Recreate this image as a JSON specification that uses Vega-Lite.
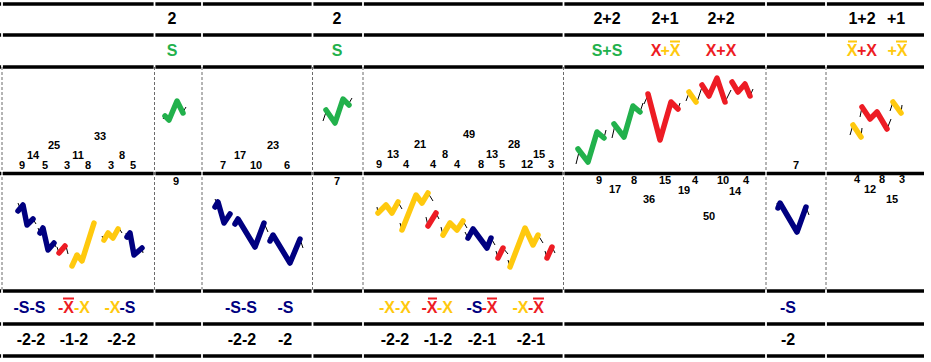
{
  "$schema": "https://vega.github.io/schema/vega-lite/v6.json",
  "width": 931,
  "height": 362,
  "padding": 0,
  "autosize": {"type": "none"},
  "background": "white",
  "config": {"view": {"stroke": null}},
  "datasets": {
    "hl": [{"y": 4}, {"y": 35}, {"y": 67}, {"y": 173.5}, {"y": 291}, {"y": 324}, {"y": 356}],
    "vb": [{"x": 2}, {"x": 154.5}, {"x": 202}, {"x": 312.5}, {"x": 363}, {"x": 563.5}, {"x": 766}, {"x": 826}],
    "zig": [
      {"g":1,"c":"g","o":0,"x":165,"y":116},{"g":1,"c":"g","o":1,"x":169,"y":120},{"g":1,"c":"g","o":2,"x":177,"y":101},{"g":1,"c":"g","o":3,"x":183,"y":113},
      {"g":2,"c":"g","o":0,"x":326,"y":110},{"g":2,"c":"g","o":1,"x":335,"y":123},{"g":2,"c":"g","o":2,"x":343,"y":99},{"g":2,"c":"g","o":3,"x":349,"y":105},
      {"g":3,"c":"g","o":0,"x":578,"y":149},{"g":3,"c":"g","o":1,"x":588,"y":162},{"g":3,"c":"g","o":2,"x":597,"y":132},{"g":3,"c":"g","o":3,"x":604,"y":138},
      {"g":4,"c":"g","o":0,"x":614,"y":124},{"g":4,"c":"g","o":1,"x":624,"y":137},{"g":4,"c":"g","o":2,"x":633,"y":106},{"g":4,"c":"g","o":3,"x":640,"y":112},
      {"g":5,"c":"r","o":0,"x":648,"y":94},{"g":5,"c":"r","o":1,"x":660,"y":140},{"g":5,"c":"r","o":2,"x":671,"y":102},{"g":5,"c":"r","o":3,"x":678,"y":109},
      {"g":6,"c":"y","o":0,"x":689,"y":92},{"g":6,"c":"y","o":1,"x":696,"y":102},
      {"g":7,"c":"r","o":0,"x":702,"y":85},{"g":7,"c":"r","o":1,"x":709,"y":96},{"g":7,"c":"r","o":2,"x":717,"y":78},{"g":7,"c":"r","o":3,"x":725,"y":102},
      {"g":8,"c":"r","o":0,"x":732,"y":82},{"g":8,"c":"r","o":1,"x":738,"y":92},{"g":8,"c":"r","o":2,"x":745,"y":84},{"g":8,"c":"r","o":3,"x":750,"y":96},
      {"g":9,"c":"y","o":0,"x":853,"y":125},{"g":9,"c":"y","o":1,"x":861,"y":137},
      {"g":10,"c":"r","o":0,"x":862,"y":107},{"g":10,"c":"r","o":1,"x":870,"y":119},{"g":10,"c":"r","o":2,"x":877,"y":112},{"g":10,"c":"r","o":3,"x":887,"y":129},
      {"g":11,"c":"y","o":0,"x":893,"y":102},{"g":11,"c":"y","o":1,"x":901,"y":113},
      {"g":12,"c":"n","o":0,"x":18,"y":211},{"g":12,"c":"n","o":1,"x":23,"y":205},{"g":12,"c":"n","o":2,"x":27,"y":225},{"g":12,"c":"n","o":3,"x":33,"y":219},
      {"g":13,"c":"n","o":0,"x":40,"y":233},{"g":13,"c":"n","o":1,"x":43,"y":228},{"g":13,"c":"n","o":2,"x":48,"y":250},{"g":13,"c":"n","o":3,"x":54,"y":243},
      {"g":14,"c":"r","o":0,"x":59,"y":253},{"g":14,"c":"r","o":1,"x":65,"y":246},
      {"g":15,"c":"y","o":0,"x":72,"y":266},{"g":15,"c":"y","o":1,"x":77,"y":255},{"g":15,"c":"y","o":2,"x":82,"y":261},{"g":15,"c":"y","o":3,"x":94,"y":223},
      {"g":16,"c":"y","o":0,"x":104,"y":240},{"g":16,"c":"y","o":1,"x":108,"y":233},{"g":16,"c":"y","o":2,"x":113,"y":238},{"g":16,"c":"y","o":3,"x":118,"y":229},
      {"g":17,"c":"n","o":0,"x":127,"y":237},{"g":17,"c":"n","o":1,"x":130,"y":233},{"g":17,"c":"n","o":2,"x":134,"y":255},{"g":17,"c":"n","o":3,"x":142,"y":248},
      {"g":18,"c":"n","o":0,"x":215,"y":207},{"g":18,"c":"n","o":1,"x":218,"y":202},{"g":18,"c":"n","o":2,"x":224,"y":223},{"g":18,"c":"n","o":3,"x":230,"y":214},
      {"g":19,"c":"n","o":0,"x":235,"y":224},{"g":19,"c":"n","o":1,"x":238,"y":219},{"g":19,"c":"n","o":2,"x":255,"y":247},{"g":19,"c":"n","o":3,"x":264,"y":223},
      {"g":20,"c":"n","o":0,"x":270,"y":241},{"g":20,"c":"n","o":1,"x":273,"y":235},{"g":20,"c":"n","o":2,"x":290,"y":263},{"g":20,"c":"n","o":3,"x":300,"y":239},
      {"g":21,"c":"y","o":0,"x":378,"y":213},{"g":21,"c":"y","o":1,"x":386,"y":205},{"g":21,"c":"y","o":2,"x":392,"y":213},{"g":21,"c":"y","o":3,"x":398,"y":202},
      {"g":22,"c":"y","o":0,"x":402,"y":230},{"g":22,"c":"y","o":1,"x":416,"y":195},{"g":22,"c":"y","o":2,"x":422,"y":203},{"g":22,"c":"y","o":3,"x":428,"y":193},
      {"g":23,"c":"r","o":0,"x":428,"y":226},{"g":23,"c":"r","o":1,"x":436,"y":213},
      {"g":24,"c":"y","o":0,"x":443,"y":235},{"g":24,"c":"y","o":1,"x":450,"y":223},{"g":24,"c":"y","o":2,"x":457,"y":230},{"g":24,"c":"y","o":3,"x":463,"y":221},
      {"g":25,"c":"n","o":0,"x":468,"y":238},{"g":25,"c":"n","o":1,"x":473,"y":229},{"g":25,"c":"n","o":2,"x":487,"y":248},{"g":25,"c":"n","o":3,"x":491,"y":238},
      {"g":26,"c":"r","o":0,"x":498,"y":258},{"g":26,"c":"r","o":1,"x":503,"y":248},
      {"g":27,"c":"y","o":0,"x":510,"y":267},{"g":27,"c":"y","o":1,"x":525,"y":228},{"g":27,"c":"y","o":2,"x":533,"y":245},{"g":27,"c":"y","o":3,"x":538,"y":235},
      {"g":28,"c":"r","o":0,"x":547,"y":258},{"g":28,"c":"r","o":1,"x":552,"y":247},
      {"g":29,"c":"n","o":0,"x":778,"y":208},{"g":29,"c":"n","o":1,"x":780,"y":203},{"g":29,"c":"n","o":2,"x":797,"y":232},{"g":29,"c":"n","o":3,"x":806,"y":207}
    ],
    "ticks": [
      {"x":163,"y":119,"x2":166,"y2":115},{"x":183,"y":112,"x2":186,"y2":107},
      {"x":323,"y":121,"x2":327,"y2":109},{"x":348,"y":105,"x2":352,"y2":98},
      {"x":576,"y":164,"x2":579,"y2":152},{"x":604,"y":138,"x2":606,"y2":130},
      {"x":612,"y":138,"x2":615,"y2":125},{"x":640,"y":112,"x2":643,"y2":103},
      {"x":644,"y":104,"x2":648,"y2":95},{"x":678,"y":109,"x2":680,"y2":103},
      {"x":686,"y":101,"x2":689,"y2":93},{"x":697,"y":102,"x2":702,"y2":87},
      {"x":726,"y":100,"x2":731,"y2":90},{"x":750,"y":96,"x2":753,"y2":89},
      {"x":850,"y":135,"x2":853,"y2":125},{"x":861,"y":137,"x2":862,"y2":128},
      {"x":860,"y":117,"x2":862,"y2":107},{"x":887,"y":129,"x2":891,"y2":119},
      {"x":890,"y":111,"x2":893,"y2":102},{"x":901,"y":113,"x2":902,"y2":105},
      {"x":18,"y":203,"x2":20,"y2":208},{"x":33,"y":219,"x2":36,"y2":224},
      {"x":38,"y":228,"x2":40,"y2":233},{"x":54,"y":243,"x2":56,"y2":247},
      {"x":57,"y":247,"x2":59,"y2":253},{"x":66,"y":246,"x2":68,"y2":254},
      {"x":102,"y":236,"x2":104,"y2":240},{"x":119,"y":228,"x2":122,"y2":233},
      {"x":126,"y":233,"x2":127,"y2":237},{"x":142,"y":248,"x2":143,"y2":253},
      {"x":215,"y":199,"x2":218,"y2":205},
      {"x":234,"y":221,"x2":236,"y2":225},{"x":264,"y":223,"x2":268,"y2":232},
      {"x":269,"y":237,"x2":271,"y2":242},{"x":300,"y":239,"x2":303,"y2":248},
      {"x":377,"y":207,"x2":378,"y2":213},{"x":398,"y":202,"x2":402,"y2":209},
      {"x":400,"y":223,"x2":402,"y2":230},{"x":428,"y":193,"x2":433,"y2":201},
      {"x":426,"y":217,"x2":428,"y2":226},{"x":436,"y":213,"x2":439,"y2":219},
      {"x":441,"y":227,"x2":443,"y2":235},{"x":463,"y":221,"x2":467,"y2":228},
      {"x":465,"y":232,"x2":468,"y2":238},{"x":491,"y":238,"x2":495,"y2":245},
      {"x":496,"y":251,"x2":498,"y2":258},{"x":503,"y":248,"x2":508,"y2":254},
      {"x":508,"y":260,"x2":510,"y2":267},{"x":538,"y":235,"x2":543,"y2":243},
      {"x":545,"y":251,"x2":547,"y2":258},{"x":552,"y":247,"x2":555,"y2":253},
      {"x":777,"y":203,"x2":778,"y2":208},{"x":806,"y":207,"x2":809,"y2":215}
    ],
    "over": [
      {"x":670,"x2":680,"y":41.5,"c":"y"},{"x":848,"x2":857,"y":41.5,"c":"y"},{"x":896,"x2":907,"y":41.5,"c":"y"},
      {"x":63,"x2":74,"y":298.5,"c":"r"},{"x":428,"x2":437,"y":298.5,"c":"r"},{"x":487,"x2":497,"y":298.5,"c":"r"},{"x":533,"x2":544,"y":298.5,"c":"r"}
    ],
    "lab": [
      {"x":172,"y":19,"t":"2","c":"k","s":"h"},{"x":337,"y":19,"t":"2","c":"k","s":"h"},
      {"x":607,"y":19,"t":"2+2","c":"k","s":"h"},{"x":665,"y":19,"t":"2+1","c":"k","s":"h"},
      {"x":721,"y":19,"t":"2+2","c":"k","s":"h"},{"x":862,"y":19,"t":"1+2","c":"k","s":"h"},
      {"x":896,"y":19,"t":"+1","c":"k","s":"h"},
      {"x":172,"y":51,"t":"S","c":"g","s":"h"},{"x":337,"y":51,"t":"S","c":"g","s":"h"},
      {"x":607,"y":51,"t":"S+S","c":"g","s":"h"},{"x":656,"y":51,"t":"X","c":"r","s":"h"},
      {"x":670.5,"y":51,"t":"+X","c":"y","s":"h"},{"x":721,"y":51,"t":"X+X","c":"r","s":"h"},
      {"x":852,"y":51,"t":"X","c":"y","s":"h"},{"x":867,"y":51,"t":"+X","c":"r","s":"h"},
      {"x":897.5,"y":51,"t":"+X","c":"y","s":"h"},
      {"x":29.5,"y":308,"t":"-S-S","c":"n","s":"h"},{"x":66,"y":308,"t":"-X","c":"r","s":"h"},
      {"x":82,"y":308,"t":"-X","c":"y","s":"h"},{"x":112.5,"y":308,"t":"-X","c":"y","s":"h"},
      {"x":127.5,"y":308,"t":"-S","c":"n","s":"h"},{"x":241,"y":308,"t":"-S-S","c":"n","s":"h"},
      {"x":285.5,"y":308,"t":"-S","c":"n","s":"h"},{"x":395,"y":308,"t":"-X-X","c":"y","s":"h"},
      {"x":429.5,"y":308,"t":"-X","c":"r","s":"h"},{"x":445,"y":308,"t":"-X","c":"y","s":"h"},
      {"x":474.5,"y":308,"t":"-S","c":"n","s":"h"},{"x":489.5,"y":308,"t":"-X","c":"r","s":"h"},
      {"x":520.5,"y":308,"t":"-X","c":"y","s":"h"},{"x":536,"y":308,"t":"-X","c":"r","s":"h"},
      {"x":788,"y":308,"t":"-S","c":"n","s":"h"},
      {"x":31,"y":340,"t":"-2-2","c":"k","s":"h"},{"x":74,"y":340,"t":"-1-2","c":"k","s":"h"},
      {"x":121.5,"y":340,"t":"-2-2","c":"k","s":"h"},{"x":242,"y":340,"t":"-2-2","c":"k","s":"h"},
      {"x":285,"y":340,"t":"-2","c":"k","s":"h"},{"x":395,"y":340,"t":"-2-2","c":"k","s":"h"},
      {"x":438,"y":340,"t":"-1-2","c":"k","s":"h"},{"x":482,"y":340,"t":"-2-1","c":"k","s":"h"},
      {"x":531,"y":340,"t":"-2-1","c":"k","s":"h"},{"x":788,"y":340,"t":"-2","c":"k","s":"h"},
      {"x":22,"y":166,"t":"9","c":"k","s":"n"},{"x":33,"y":156,"t":"14","c":"k","s":"n"},
      {"x":45,"y":166,"t":"5","c":"k","s":"n"},{"x":54,"y":146,"t":"25","c":"k","s":"n"},
      {"x":67,"y":166,"t":"3","c":"k","s":"n"},{"x":78,"y":156,"t":"11","c":"k","s":"n"},
      {"x":88,"y":166,"t":"8","c":"k","s":"n"},{"x":100,"y":137,"t":"33","c":"k","s":"n"},
      {"x":111,"y":166,"t":"3","c":"k","s":"n"},{"x":122,"y":156,"t":"8","c":"k","s":"n"},
      {"x":133,"y":166,"t":"5","c":"k","s":"n"},
      {"x":223,"y":166,"t":"7","c":"k","s":"n"},{"x":240,"y":156,"t":"17","c":"k","s":"n"},
      {"x":256,"y":166,"t":"10","c":"k","s":"n"},{"x":273,"y":146,"t":"23","c":"k","s":"n"},
      {"x":287,"y":166,"t":"6","c":"k","s":"n"},
      {"x":379,"y":165,"t":"9","c":"k","s":"n"},{"x":393,"y":155,"t":"13","c":"k","s":"n"},
      {"x":406,"y":165,"t":"4","c":"k","s":"n"},{"x":420,"y":145,"t":"21","c":"k","s":"n"},
      {"x":433,"y":165,"t":"4","c":"k","s":"n"},{"x":445,"y":155,"t":"8","c":"k","s":"n"},
      {"x":457,"y":165,"t":"4","c":"k","s":"n"},{"x":469,"y":135,"t":"49","c":"k","s":"n"},
      {"x":481,"y":165,"t":"8","c":"k","s":"n"},{"x":492,"y":155,"t":"13","c":"k","s":"n"},
      {"x":502,"y":165,"t":"5","c":"k","s":"n"},{"x":514,"y":145,"t":"28","c":"k","s":"n"},
      {"x":527,"y":165,"t":"12","c":"k","s":"n"},{"x":539,"y":155,"t":"15","c":"k","s":"n"},
      {"x":551,"y":165,"t":"3","c":"k","s":"n"},
      {"x":796,"y":166,"t":"7","c":"k","s":"n"},
      {"x":176,"y":182,"t":"9","c":"k","s":"n"},{"x":337,"y":182,"t":"7","c":"k","s":"n"},
      {"x":599,"y":181,"t":"9","c":"k","s":"n"},{"x":615,"y":190,"t":"17","c":"k","s":"n"},
      {"x":634,"y":181,"t":"8","c":"k","s":"n"},{"x":649,"y":200,"t":"36","c":"k","s":"n"},
      {"x":665,"y":181,"t":"15","c":"k","s":"n"},{"x":684,"y":191,"t":"19","c":"k","s":"n"},
      {"x":695,"y":181,"t":"4","c":"k","s":"n"},{"x":709,"y":217,"t":"50","c":"k","s":"n"},
      {"x":723,"y":181,"t":"10","c":"k","s":"n"},{"x":735,"y":192,"t":"14","c":"k","s":"n"},
      {"x":746,"y":181,"t":"4","c":"k","s":"n"},
      {"x":857,"y":180,"t":"4","c":"k","s":"n"},{"x":870,"y":190,"t":"12","c":"k","s":"n"},
      {"x":882,"y":180,"t":"8","c":"k","s":"n"},{"x":892,"y":200,"t":"15","c":"k","s":"n"},
      {"x":902,"y":180,"t":"3","c":"k","s":"n"}
    ]
  },
  "layer": [
    {
      "data": {"name": "hl"},
      "mark": {"type": "rule", "color": "black", "strokeWidth": 3.5},
      "encoding": {
        "x": {"datum": 0, "type": "quantitative", "scale": {"domain": [0, 931], "nice": false, "zero": false}, "axis": null},
        "x2": {"datum": 924},
        "y": {"field": "y", "type": "quantitative", "scale": {"domain": [0, 362], "reverse": true, "nice": false, "zero": false}, "axis": null}
      }
    },
    {
      "data": {"name": "vb"},
      "mark": {"type": "rule", "color": "white", "strokeWidth": 1.8},
      "encoding": {
        "x": {"field": "x", "type": "quantitative", "scale": {"domain": [0, 931], "nice": false, "zero": false}, "axis": null}
      }
    },
    {
      "data": {"name": "vb"},
      "mark": {"type": "rule", "color": "#6b6b6b", "strokeWidth": 1, "strokeDash": [3, 2]},
      "encoding": {
        "x": {"field": "x", "type": "quantitative", "scale": {"domain": [0, 931], "nice": false, "zero": false}, "axis": null},
        "y": {"datum": 67, "type": "quantitative", "scale": {"domain": [0, 362], "reverse": true, "nice": false, "zero": false}, "axis": null},
        "y2": {"datum": 290}
      }
    },
    {
      "data": {"name": "ticks"},
      "mark": {"type": "rule", "color": "black", "strokeWidth": 1},
      "encoding": {
        "x": {"field": "x", "type": "quantitative", "scale": {"domain": [0, 931], "nice": false, "zero": false}, "axis": null},
        "x2": {"field": "x2"},
        "y": {"field": "y", "type": "quantitative", "scale": {"domain": [0, 362], "reverse": true, "nice": false, "zero": false}, "axis": null},
        "y2": {"field": "y2"}
      }
    },
    {
      "data": {"name": "zig"},
      "mark": {"type": "line", "strokeWidth": 5.5, "strokeCap": "round", "strokeJoin": "round"},
      "encoding": {
        "x": {"field": "x", "type": "quantitative", "scale": {"domain": [0, 931], "nice": false, "zero": false}, "axis": null},
        "y": {"field": "y", "type": "quantitative", "scale": {"domain": [0, 362], "reverse": true, "nice": false, "zero": false}, "axis": null},
        "detail": {"field": "g", "type": "nominal"},
        "order": {"field": "o", "type": "quantitative"},
        "color": {"field": "c", "type": "nominal", "scale": {"domain": ["k", "g", "r", "y", "n"], "range": ["#000000", "#22B14C", "#ED1C24", "#FFC90E", "#000080"]}, "legend": null}
      }
    },
    {
      "data": {"name": "over"},
      "mark": {"type": "rule", "strokeWidth": 2},
      "encoding": {
        "x": {"field": "x", "type": "quantitative", "scale": {"domain": [0, 931], "nice": false, "zero": false}, "axis": null},
        "x2": {"field": "x2"},
        "y": {"field": "y", "type": "quantitative", "scale": {"domain": [0, 362], "reverse": true, "nice": false, "zero": false}, "axis": null},
        "color": {"field": "c", "type": "nominal", "scale": {"domain": ["k", "g", "r", "y", "n"], "range": ["#000000", "#22B14C", "#ED1C24", "#FFC90E", "#000080"]}, "legend": null}
      }
    },
    {
      "data": {"name": "lab"},
      "mark": {"type": "text", "font": "Liberation Sans", "fontWeight": "bold", "align": "center", "baseline": "middle"},
      "encoding": {
        "x": {"field": "x", "type": "quantitative", "scale": {"domain": [0, 931], "nice": false, "zero": false}, "axis": null},
        "y": {"field": "y", "type": "quantitative", "scale": {"domain": [0, 362], "reverse": true, "nice": false, "zero": false}, "axis": null},
        "text": {"field": "t", "type": "nominal"},
        "size": {"field": "s", "type": "nominal", "scale": {"domain": ["h", "n"], "range": [16, 11]}, "legend": null},
        "color": {"field": "c", "type": "nominal", "scale": {"domain": ["k", "g", "r", "y", "n"], "range": ["#000000", "#22B14C", "#ED1C24", "#FFC90E", "#000080"]}, "legend": null}
      }
    }
  ]
}
